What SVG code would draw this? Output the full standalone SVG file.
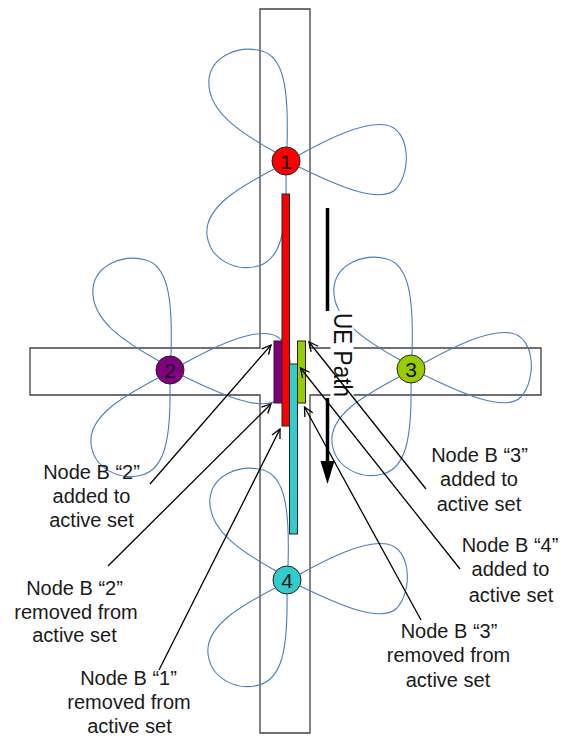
<svg xmlns="http://www.w3.org/2000/svg" width="561" height="738" viewBox="0 0 561 738">
<style>
.road{fill:none;stroke:#404040;stroke-width:1.3}
.lobe{fill:none;stroke:#4a7ebb;stroke-width:1.1}
.node{stroke:#222;stroke-width:1}
.num{font-family:"Liberation Sans",Arial,sans-serif;font-size:21px;fill:#111;text-anchor:middle}
.bar{stroke:#222;stroke-width:1}
.lbl{font-family:"Liberation Sans",Arial,sans-serif;font-size:20px;fill:#1a1a1a;text-anchor:middle}
.lead{fill:none;stroke:#000;stroke-width:1.3;marker-end:url(#open)}
</style>
<defs>
<marker id="open" markerUnits="userSpaceOnUse" markerWidth="14" markerHeight="14" viewBox="-10 -7 14 14" refX="0" refY="0" orient="auto">
<path d="M-9,-4.5 L0,0 L-9,4.5" fill="none" stroke="#000" stroke-width="1.3"/>
</marker>
<g id="lobes">
<path class="lobe" d="M-11,-9 C-45,-28 -80,-50 -77,-82 C-74,-106 -46,-116 -24,-110 C-3,-104 3,-75 1,-14"/>
<path class="lobe" d="M13,-6 C42,-22 78,-40 100,-36 C124,-32 126,10 110,28 C94,44 50,24 13,6"/>
<path class="lobe" d="M-12,8 C-46,26 -82,46 -79,74 C-76,99 -50,111 -28,105 C-6,99 1,72 0,14"/>
</g>
</defs>
<rect width="561" height="738" fill="#fff"/>
<path id="road" class="road" d="M260,9 H310 V348 H541 V395 H310 V733 H260 V395 H30 V348 H260 Z"/>
<g id="coverage">
<use href="#lobes" x="286" y="161"/>
<use href="#lobes" x="170" y="370"/>
<use href="#lobes" x="411" y="369"/>
<use href="#lobes" x="287" y="580"/>
</g>
<g id="ue-path">
<line x1="327.5" y1="208" x2="327.5" y2="311" stroke="#000" stroke-width="3.5"/>
<line x1="327.5" y1="398" x2="327.5" y2="464" stroke="#000" stroke-width="3.5"/>
<polygon points="320.5,461 334.5,461 327.5,484" fill="#000"/>
<rect x="330.5" y="311" width="23" height="89" fill="#fff"/>
<text transform="translate(334,313) rotate(90)" font-family="'Liberation Sans',Arial,sans-serif" font-size="26" fill="#111" textLength="84" lengthAdjust="spacingAndGlyphs">UE Path</text>
</g>
<g id="bars">
<rect class="bar" x="274" y="341" width="8" height="62" fill="#800080"/>
<rect class="bar" x="282" y="194" width="7.5" height="232" fill="#ff0000"/>
<rect class="bar" x="289.5" y="364" width="8" height="170" fill="#33cccc"/>
<rect class="bar" x="297.5" y="341" width="8" height="62" fill="#99cc00"/>
</g>
<g id="node1"><circle class="node" cx="286" cy="161" r="14" fill="#ff0000"/><text class="num" x="286" y="168.5">1</text></g>
<g id="node2"><circle class="node" cx="170" cy="370" r="14" fill="#800080"/><text class="num" x="170" y="377.5">2</text></g>
<g id="node3"><circle class="node" cx="411" cy="369" r="14" fill="#99cc00"/><text class="num" x="411" y="376.5">3</text></g>
<g id="node4"><circle class="node" cx="287" cy="580" r="14" fill="#33cccc"/><text class="num" x="287" y="587.5">4</text></g>
<g id="connectors">
<line class="lead" x1="150" y1="484" x2="271" y2="345"/>
<line class="lead" x1="108" y1="566" x2="271" y2="404"/>
<line class="lead" x1="159" y1="670" x2="280" y2="429"/>
<line class="lead" x1="426" y1="489" x2="309" y2="342"/>
<line class="lead" x1="460" y1="569" x2="300.5" y2="368"/>
<line class="lead" x1="421" y1="620" x2="304.5" y2="407"/>
</g>
<g id="label-2-added"><text class="lbl" x="91.5" y="479">Node B “2”</text><text class="lbl" x="91.5" y="503">added to</text><text class="lbl" x="91.5" y="527">active set</text></g>
<g id="label-2-removed"><text class="lbl" x="74.5" y="595">Node B “2”</text><text class="lbl" x="76" y="618.5">removed from</text><text class="lbl" x="74.5" y="642">active set</text></g>
<g id="label-1-removed"><text class="lbl" x="128.5" y="685">Node B “1”</text><text class="lbl" x="129" y="709">removed from</text><text class="lbl" x="129.5" y="733">active set</text></g>
<g id="label-3-added"><text class="lbl" x="479.5" y="462">Node B “3”</text><text class="lbl" x="479" y="486">added to</text><text class="lbl" x="479" y="510.5">active set</text></g>
<g id="label-4-added"><text class="lbl" x="510" y="552">Node B “4”</text><text class="lbl" x="510.5" y="576">added to</text><text class="lbl" x="511" y="601.5">active set</text></g>
<g id="label-3-removed"><text class="lbl" x="449" y="638">Node B “3”</text><text class="lbl" x="448.5" y="662">removed from</text><text class="lbl" x="448" y="686.5">active set</text></g>
</svg>
